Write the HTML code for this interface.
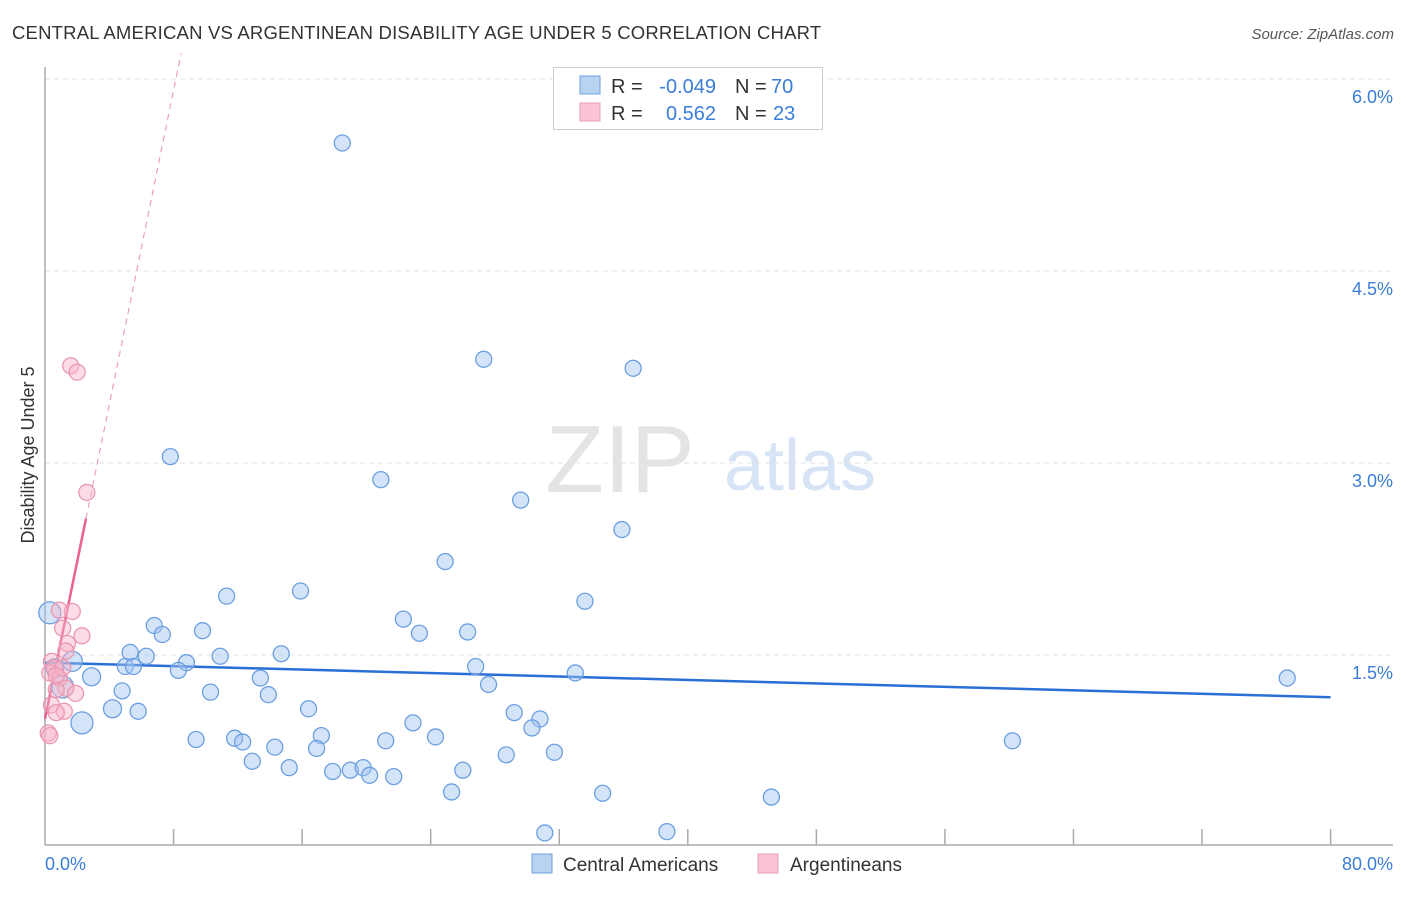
<!DOCTYPE html>
<html><head><meta charset="utf-8"><style>
body{margin:0;background:#fff;font-family:"Liberation Sans",sans-serif;}
svg text{font-family:"Liberation Sans",sans-serif;}
</style></head><body>
<svg id="chart" width="1406" height="892" xmlns="http://www.w3.org/2000/svg">
<text x="12" y="39" font-size="18.5" letter-spacing="0.2" fill="#333">CENTRAL AMERICAN VS ARGENTINEAN DISABILITY AGE UNDER 5 CORRELATION CHART</text>
<text x="1394" y="39" font-size="15" fill="#555" font-style="italic" text-anchor="end">Source: ZipAtlas.com</text>
<text x="620" y="492" font-size="96" fill="#e4e4e4" font-family="Liberation Serif,serif" text-anchor="middle">ZIP</text>
<text x="800" y="490" font-size="72" fill="#d6e4f5" text-anchor="middle">atlas</text>
<g id="grid"></g><g id="axes"></g><g id="trend"></g><g id="pts"></g>
<text transform="translate(34,455) rotate(-90)" font-size="18" fill="#333" text-anchor="middle">Disability Age Under 5</text>
<text x="45" y="870" font-size="18" fill="#3b7dd8">0.0%</text>
<text x="1393" y="870" font-size="18" fill="#3b7dd8" text-anchor="end">80.0%</text>
<g>
<rect x="553.5" y="67.5" width="269" height="62" fill="#fff" stroke="#ccc"/>
<rect x="580" y="76" width="20" height="18" fill="#b8d2f2" stroke="#6fa0e0"/>
<rect x="580" y="103" width="20" height="18" fill="#fac4d4" stroke="#eaa0b8"/>
<text x="611" y="93" font-size="20" fill="#333">R =</text>
<text x="716" y="93" font-size="20" fill="#3b7dd8" text-anchor="end">-0.049</text>
<text x="735" y="93" font-size="20" fill="#333">N =</text>
<text x="771" y="93" font-size="20" fill="#3b7dd8">70</text>
<text x="611" y="120" font-size="20" fill="#333">R =</text>
<text x="716" y="120" font-size="20" fill="#3b7dd8" text-anchor="end">0.562</text>
<text x="735" y="120" font-size="20" fill="#333">N =</text>
<text x="773" y="120" font-size="20" fill="#3b7dd8">23</text>
</g>
<g>
<rect x="532" y="854" width="20" height="19" fill="#b8d2f2" stroke="#6fa0e0"/>
<text x="563" y="871" font-size="19" fill="#333">Central Americans</text>
<rect x="758" y="854" width="20" height="19" fill="#fac4d4" stroke="#eaa0b8"/>
<text x="790" y="871" font-size="19" fill="#333">Argentineans</text>
</g>
</svg>
<script>
const yTicks=[1.5,3.0,4.5,6.0];
const yTickLabels=["1.5%","3.0%","4.5%","6.0%"];
const blueX=[18.5,27.3,36.6,7.8,20.9,29.6,35.9,24.9,15.9,11.3,33.6,22.3,6.8,7.3,9.8,23.3,26.3,5.3,6.3,14.7,10.9,8.8,8.3,5.0,5.5,26.8,33.0,2.9,13.4,27.6,4.8,10.3,13.9,4.2,5.8,16.4,29.2,30.8,2.3,22.9,30.3,9.4,11.8,12.3,17.2,21.2,24.3,14.3,16.9,28.7,31.7,12.9,15.2,17.9,19.0,19.8,20.2,21.7,26.0,25.3,34.7,45.2,31.1,38.7,60.2,77.3,0.3,1.7,1.1,0.6];
const blueY=[5.50,3.81,3.74,3.05,2.87,2.71,2.48,2.23,2.00,1.96,1.92,1.78,1.73,1.66,1.69,1.67,1.68,1.52,1.49,1.51,1.49,1.44,1.38,1.41,1.41,1.41,1.36,1.33,1.32,1.27,1.22,1.21,1.19,1.08,1.06,1.08,1.05,1.00,0.97,0.97,0.93,0.84,0.85,0.82,0.87,0.83,0.86,0.78,0.77,0.72,0.74,0.67,0.62,0.59,0.60,0.62,0.56,0.55,0.60,0.43,0.42,0.39,0.11,0.12,0.83,1.32,1.83,1.45,1.25,1.40];
const blueR=[8,8,8,8,8,8,8,8,8,8,8,8,8,8,8,8,8,8,8,8,8,8,8,8,8,8,8,9,8,8,8,8,8,9,8,8,8,8,11,8,8,8,8,8,8,8,8,8,8,8,8,8,8,8,8,8,8,8,8,8,8,8,8,8,8,8,11,10,11,9];
const pinkX=[1.6,2.0,2.6,1.7,0.9,2.3,1.1,1.4,1.3,0.4,0.6,0.3,0.9,1.3,0.7,1.9,0.4,1.2,0.7,0.2,0.3,1.1,0.7];
const pinkY=[3.76,3.71,2.77,1.84,1.85,1.65,1.71,1.59,1.53,1.45,1.40,1.36,1.32,1.24,1.23,1.20,1.11,1.06,1.05,0.89,0.87,1.40,1.34];
const blueTrend=[1.44,1.17];
const pinkTrend={slope:0.614,intercept:1.0};
const NS="http://www.w3.org/2000/svg";
const X=v=>45+v*16.07, Y=v=>847-v*128;
function mk(t,a,p){const e=document.createElementNS(NS,t);for(const k in a)e.setAttribute(k,a[k]);p.appendChild(e);return e;}
const grid=document.getElementById('grid'),axes=document.getElementById('axes'),trend=document.getElementById('trend'),pts=document.getElementById('pts');
yTicks.forEach((t,i)=>{
 const l=mk('line',{x1:45,x2:1393,y1:Y(t),y2:Y(t),stroke:'#e2e2e2','stroke-dasharray':'5,4'},grid);
 
 
 const tx=mk('text',{x:1393,y:Y(t)+24,'font-size':18,fill:'#3b7dd8','text-anchor':'end'},grid);
 tx.textContent=yTickLabels[i];
 
 
});
const ya=mk('line',{x1:45,x2:45,y1:67,y2:845,stroke:'#aaa','stroke-width':1.5},axes);


const xa=mk('line',{x1:45,x2:1393,y1:845,y2:845,stroke:'#aaa','stroke-width':1.5},axes);


for(let i=1;i<=10;i++){const tk=mk('line',{x1:X(i*8),x2:X(i*8),y1:829,y2:845,stroke:'#aaa','stroke-width':1.5},axes);
 
 }
blueX.forEach((x,i)=>{const c=mk('circle',{cx:X(x),cy:Y(blueY[i]),r:blueR[i],fill:'rgba(160,195,240,0.45)',stroke:'#6c9fe0','stroke-width':1.3},pts);
 
 });
pinkX.forEach((x,i)=>{const c=mk('circle',{cx:X(x),cy:Y(pinkY[i]),r:8,fill:'rgba(248,180,200,0.45)',stroke:'#ea98b2','stroke-width':1.3},pts);
 
 });
const bt=mk('line',{x1:X(0),y1:Y(blueTrend[0]),x2:X(80),y2:Y(blueTrend[1]),stroke:'#2a6fd6','stroke-width':2.5},trend);


const pf=x=>pinkTrend.intercept+pinkTrend.slope*x;
const ps=mk('line',{x1:X(0),y1:Y(pf(0)),x2:X(2.55),y2:Y(pf(2.55)),stroke:'#e8628c','stroke-width':2.5},trend);


const xe=(6.2-pinkTrend.intercept)/pinkTrend.slope;
const pd=mk('line',{x1:X(2.55),y1:Y(pf(2.55)),x2:X(xe),y2:Y(6.2),stroke:'#eaa0b8','stroke-width':1.2,'stroke-dasharray':'6,5'},trend);


</script>
</body></html>
